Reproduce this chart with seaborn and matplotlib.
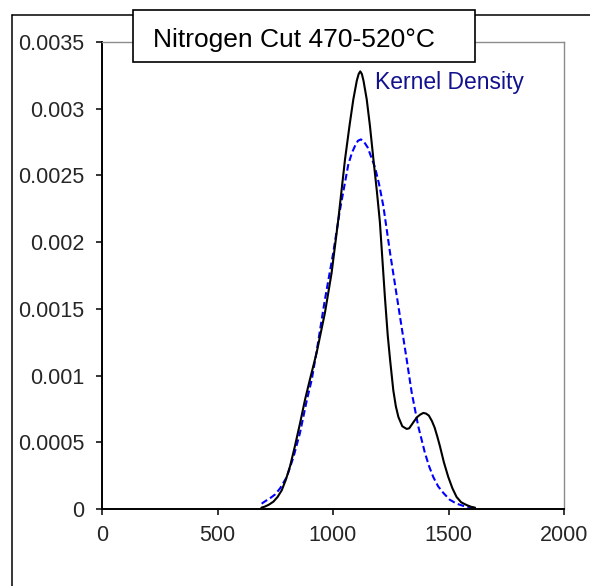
import numpy as np
import pandas as pd
import seaborn as sns
import matplotlib as mpl
from matplotlib import pyplot as plt
from matplotlib.patches import Rectangle
from matplotlib.lines import Line2D
from matplotlib.ticker import FuncFormatter

sns.set_style("white")
mpl.rcParams["font.family"] = ["Liberation Sans", "DejaVu Sans"]

# observed distribution (black solid)
obs_x = [690, 705, 722, 742, 760, 778, 796, 814, 835, 857, 879, 900, 929,
         965, 994, 1023, 1052, 1072, 1088, 1103, 1111, 1118, 1125, 1132,
         1146, 1160, 1175, 1190, 1203, 1215, 1225, 1237, 1247, 1261, 1272,
         1283, 1300, 1319, 1330, 1340, 1352, 1365, 1378, 1391, 1403, 1415,
         1428, 1440, 1452, 1463, 1480, 1499, 1517, 1535, 1555, 1578, 1597,
         1615]
obs_y = [0.00001, 0.000018, 0.000032, 0.000055, 0.00009, 0.00014, 0.00022,
         0.00032, 0.00047, 0.00064, 0.00082, 0.00097, 0.00117, 0.00147,
         0.00177, 0.00217, 0.00262, 0.00288, 0.00307, 0.00321, 0.00326,
         0.00328, 0.00326, 0.00321, 0.00307, 0.00287, 0.00262, 0.00238,
         0.00215, 0.00184, 0.00158, 0.00130, 0.00112, 0.00089, 0.00077,
         0.00069, 0.00062, 0.00060, 0.000605, 0.00063, 0.00066, 0.00069,
         0.000708, 0.00072, 0.000715, 0.00070, 0.00066, 0.00061, 0.00054,
         0.00047, 0.00035, 0.00024, 0.000155, 0.00009, 0.00005, 0.00003,
         0.000017, 0.00001]

# kernel density (blue dashed)
kde_x = [691, 708, 727, 750, 771, 800, 829, 857, 886, 908, 929, 965, 1001,
         1030, 1066, 1082, 1095, 1108, 1121, 1135, 1150, 1165, 1182, 1200,
         1218, 1247, 1283, 1319, 1340, 1369, 1398, 1416, 1434, 1455, 1478,
         1505, 1535, 1570, 1607]
kde_y = [0.00004, 0.00006, 0.00008, 0.00011, 0.000155, 0.00024, 0.00039,
         0.00057, 0.00081, 0.00097, 0.00118, 0.00157, 0.00192, 0.00224,
         0.00258, 0.00267, 0.00272, 0.00276, 0.00277, 0.00275, 0.00271,
         0.00264, 0.00256, 0.00243, 0.00227, 0.00192, 0.00152, 0.00112,
         0.00088, 0.00062, 0.00042, 0.00032, 0.00024, 0.00017, 0.00012,
         0.00007, 0.00004, 0.00002, 0.00001]

x_ticks = [0, 500, 1000, 1500, 2000]
y_ticks = [0, 0.0005, 0.001, 0.0015, 0.002, 0.0025, 0.003, 0.0035]

W, H = 590, 586
fig = plt.figure(figsize=(W / 100, H / 100), dpi=100)
ax = fig.add_axes([102 / W, 1 - 509 / H, (564 - 102) / W, (509 - 42) / H])

obs = pd.DataFrame({"x": obs_x, "y": obs_y})
kde = pd.DataFrame({"x": kde_x, "y": kde_y})
sns.lineplot(data=kde, x="x", y="y", ax=ax, color="#0000ff", lw=1.5,
             linestyle=(0, (3.2, 1.6)), sort=False)
sns.lineplot(data=obs, x="x", y="y", ax=ax, color="black", lw=1.5, sort=False)

ax.set_xlim(0, 2000)
ax.set_ylim(0, 0.0035)
ax.set_xticks(x_ticks)
ax.set_yticks(y_ticks)
ax.yaxis.set_major_formatter(FuncFormatter(lambda v, _: f"{v:g}"))
ax.set_xlabel("")
ax.set_ylabel("")
ax.tick_params(axis="both", direction="out", length=4.5, width=1.1,
               labelsize=15.5, color="black", left=True, bottom=True)
ax.tick_params(axis="x", pad=7)
ax.tick_params(axis="y", pad=8)
for side in ["left", "bottom"]:
    ax.spines[side].set_color("black")
    ax.spines[side].set_linewidth(1.4)
for side in ["top", "right"]:
    ax.spines[side].set_color("#8c8c8c")
    ax.spines[side].set_linewidth(1.0)
ax.spines["top"].set_visible(True)
ax.spines["right"].set_visible(True)

# outer chart frame (open to the right and bottom)
fx = 12 / W
fy = 1 - 15 / H
fig.add_artist(Line2D([fx, fx], [0, fy], color="black", lw=1.1))
fig.add_artist(Line2D([fx, 1], [fy, fy], color="black", lw=1.1))

# title box
fig.add_artist(Rectangle((133 / W, 1 - 62 / H), (475 - 133) / W, 52 / H,
                         facecolor="white", edgecolor="black", lw=1.2,
                         zorder=5))
fig.text(153 / W, 1 - 46.5 / H, "Nitrogen Cut 470-520°C", fontsize=19,
         ha="left", va="baseline", color="black", zorder=6)

fig.text(375 / W, 1 - 89 / H, "Kernel Density", fontsize=16.5,
         ha="left", va="baseline", color="#12128f", zorder=6)

fig.savefig("out.png", dpi=100)
